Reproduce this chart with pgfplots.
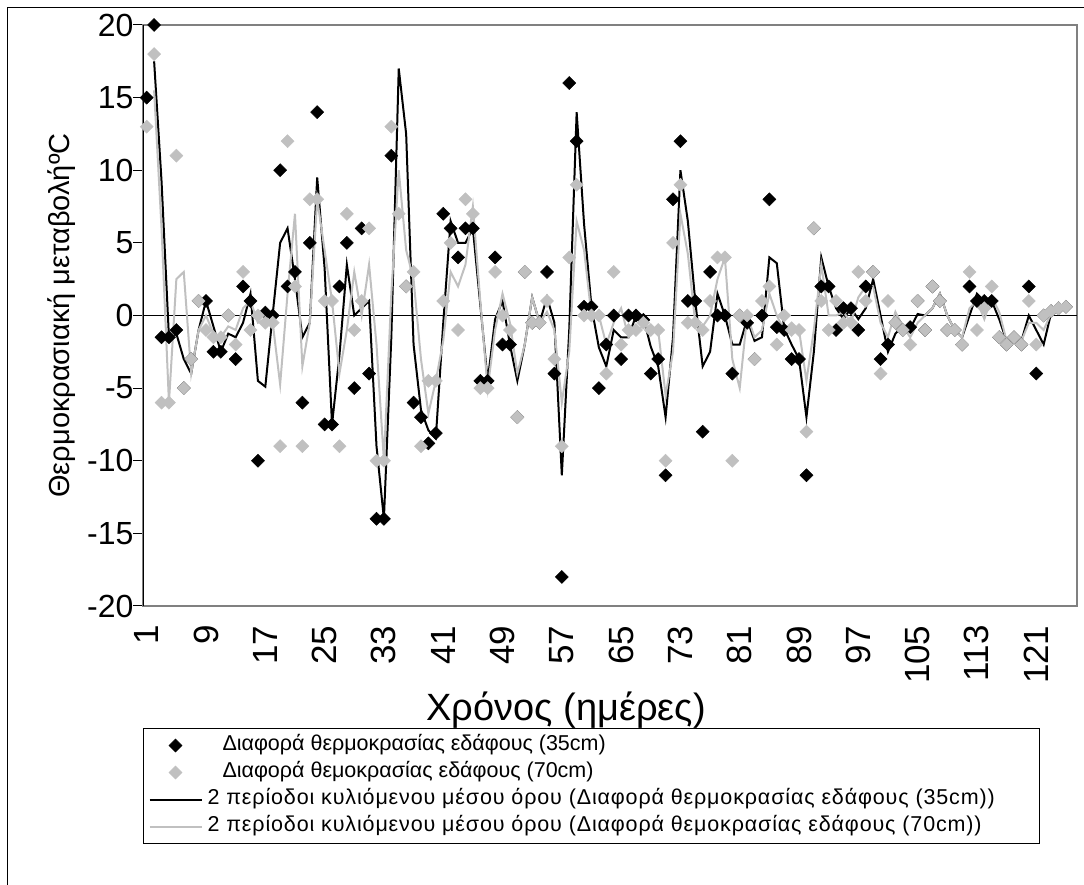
\documentclass[border=0pt]{standalone}
\usepackage{fontspec}
\setmainfont{Liberation Sans}
\usepackage{pgfplots}
\pgfplotsset{compat=1.18}
\usepackage{pgfplotstable}
\definecolor{silv}{RGB}{192,192,192}
\definecolor{bord}{RGB}{128,128,128}
\pgfplotstableread{
d B G BM GM
1 15 13 nan nan
2 20 18 17.5 15.5
3 -1.5 -6 9.25 6
4 -1.5 -6 -1.5 -6
5 -1 11 -1.25 2.5
6 -5 -5 -3 3
7 -3 -3 -4 -4
8 1 1 -1 -1
9 1 -1 1 0
10 -2.5 -1.5 -0.75 -1.25
11 -2.5 -1.5 -2.5 -1.5
12 0 0 -1.25 -0.75
13 -3 -2 -1.5 -1
14 2 3 -0.5 0.5
15 1 -1 1.5 1
16 -10 0 -4.5 -0.5
17 0.2 -0.5 -4.9 -0.25
18 0 -0.5 0.1 -0.5
19 10 -9 5 -4.75
20 2 12 6 1.5
21 3 2 2.5 7
22 -6 -9 -1.5 -3.5
23 5 8 -0.5 -0.5
24 14 8 9.5 8
25 -7.5 1 3.25 4.5
26 -7.5 1 -7.5 1
27 2 -9 -2.75 -4
28 5 7 3.5 -1
29 -5 -1 0 3
30 6 1 0.5 0
31 -4 6 1 3.5
32 -14 -10 -9 -2
33 -14 -10 -14 -10
34 11 13 -1.5 1.5
35 23 7 17 10
36 2 2 12.5 4.5
37 -6 3 -2 2.5
38 -7 -9 -6.5 -3
39 -8.8 -4.5 -7.9 -6.75
40 -8.1 -4.5 -8.45 -4.5
41 7 1 -0.55 -1.75
42 6 5 6.5 3
43 4 -1 5 2
44 6 8 5 3.5
45 6 7 6 7.5
46 -4.5 -5 0.75 1
47 -4.5 -5 -4.5 -5
48 4 3 -0.25 -1
49 -2 0 1 1.5
50 -2 -1 -2 -0.5
51 -7 -7 -4.5 -4
52 3 3 -2 -2
53 -0.5 -0.5 1.25 1.25
54 -0.5 -0.5 -0.5 -0.5
55 3 1 1.25 0.25
56 -4 -3 -0.5 -1
57 -18 -9 -11 -6
58 16 4 -1 -2.5
59 12 9 14 6.5
60 0.6 0 6.3 4.5
61 0.6 0 0.6 0
62 -5 0 -2.2 0
63 -2 -4 -3.5 -2
64 0 3 -1 -0.5
65 -3 -2 -1.5 0.5
66 0 -1 -1.5 -1.5
67 0 -1 0 -1
68 -0.3 -0.5 -0.15 -0.75
69 -4 -1 -2.15 -0.75
70 -3 -1 -3.5 -1
71 -11 -10 -7 -5.5
72 8 5 -1.5 -2.5
73 12 9 10 7
74 1 -0.5 6.5 4.25
75 1 -0.5 1 -0.5
76 -8 -1 -3.5 -0.75
77 3 1 -2.5 0
78 0 4 1.5 2.5
79 0 4 0 4
80 -4 -10 -2 -3
81 0 0 -2 -5
82 -0.5 0 -0.25 0
83 -3 -3 -1.75 -1.5
84 0 1 -1.5 -1
85 8 2 4 1.5
86 -0.8 -2 3.6 0
87 -1 0 -0.9 -1
88 -3 -1 -2 -0.5
89 -3 -1 -3 -1
90 -11 -8 -7 -4.5
91 6 6 -2.5 -1
92 2 1 4 3.5
93 2 -1 2 0
94 -1 1 0.5 0
95 0.5 -0.5 -0.25 0.25
96 0.5 -0.5 0.5 -0.5
97 -1 3 -0.25 1.25
98 2 1 0.5 2
99 3 3 2.5 2
100 -3 -4 0 -0.5
101 -2 1 -2.5 -1.5
102 -0.5 -0.5 -1.25 0.25
103 -1 -1 -0.75 -0.75
104 -0.8 -2 -0.9 -1.5
105 1 1 0.1 -0.5
106 -1 -1 0 0
107 2 2 0.5 0.5
108 1 1 1.5 1.5
109 -1 -1 0 0
110 -1 -1 -1 -1
111 -2 -2 -1.5 -1.5
112 2 3 0 0.5
113 1 -1 1.5 1
114 1 0.5 1 -0.25
115 1 2 1 1.25
116 -1.5 -1.5 -0.25 0.25
117 -2 -2 -1.75 -1.75
118 -1.5 -1.5 -1.75 -1.75
119 -2 -2 -1.75 -1.75
120 2 1 0 -0.5
121 -4 -2 -1 -0.5
122 0 0 -2 -1
123 0.3 0.3 0.15 0.15
124 0.5 0.5 0.4 0.4
125 0.6 0.6 0.55 0.55
}\data

\begin{document}
\begin{tikzpicture}[x=1pt,y=1pt]
\useasboundingbox (0,0) rectangle (1084,885);
\draw[black, line width=1pt] (7.5,0) -- (7.5,877.5) -- (1084,877.5);
\begin{axis}[
  at={(143pt,279pt)}, anchor=south west,
  scale only axis, width=934pt, height=581pt,
  xmin=0.5, xmax=126.5, ymin=-20, ymax=20,
  axis line style={draw=bord, line width=1.5pt},
  ytick={-20,-15,-10,-5,0,5,10,15,20},
  yticklabels={-20,-15,-10,-5,0,5,10,15,20},
  xtick={1,9,17,25,33,41,49,57,65,73,81,89,97,105,113,121},
  xticklabels={1,9,17,25,33,41,49,57,65,73,81,89,97,105,113,121},
  tick align=outside,
  major tick length=10pt,
  ytick pos=left,
  ytick style={black, line width=1pt},
  xtick style={draw=none},
  yticklabel style={font=\fontsize{32}{36}\selectfont},
  xticklabel style={rotate=90, anchor=east, font=\fontsize{35}{40}\selectfont},
  xticklabel shift=6pt,
  yticklabel shift=-4pt,
  xlabel={Χρόνος (ημέρες)},
  xlabel style={at={(axis description cs:0.453,-0.179)}, anchor=center, font=\fontsize{38}{44}\selectfont},
  ylabel={Θερμοκρασιακή μεταβολήºC},
  ylabel style={at={(axis description cs:-0.0867,0.5)}, anchor=center, rotate=0, font=\fontsize{29}{34}\selectfont},
  legend image code/.code={\draw[mark repeat=2,mark phase=2,#1] plot coordinates {(0pt,0pt) (26pt,0pt) (52pt,0pt)};},
  legend cell align=left,
  legend style={at={(axis description cs:0,-0.2100)}, anchor=north west,
    draw=black, line width=1pt, inner xsep=5pt, inner ysep=7pt,
    font=\fontsize{21.5}{24}\selectfont, row sep=7pt, column sep=5pt,
    nodes={inner sep=0pt, text height=15pt, text depth=5pt}},
  clip=true,
]
\draw[black, line width=1pt] (axis cs:0.5,0) -- (axis cs:126.5,0);
\addplot[only marks, mark=square*, mark size=4.6pt, mark options={rotate=45, fill=black, draw=black, line width=0.5pt}, restrict y to domain=-20.5:20.5] table[x=d, y=B] {\data};
\addlegendentry{\hspace*{15pt}Διαφορά θερμοκρασίας εδάφους (35cm)}
\addplot[only marks, mark=square*, mark size=4.6pt, mark options={rotate=45, fill=silv, draw=silv, line width=0.5pt}] table[x=d, y=G] {\data};
\addlegendentry{\hspace*{15pt}Διαφορά θεμοκρασίας εδάφους (70cm)}
\addplot[black, line width=2pt, no marks] table[x=d, y=BM] {\data};
\addlegendentry{{\addfontfeatures{LetterSpace=4}2 περίοδοι κυλιόμενου μέσου όρου (Διαφορά θερμοκρασίας εδάφους (35cm))}\hspace*{40pt}}
\addplot[silv, line width=2pt, no marks] table[x=d, y=GM] {\data};
\addlegendentry{{\addfontfeatures{LetterSpace=4}2 περίοδοι κυλιόμενου μέσου όρου (Διαφορά θεμοκρασίας εδάφους (70cm))}\hspace*{40pt}}
\draw[black, line width=1pt] (axis description cs:0,0) -- (axis description cs:0,1);
\end{axis}
\end{tikzpicture}
\end{document}
